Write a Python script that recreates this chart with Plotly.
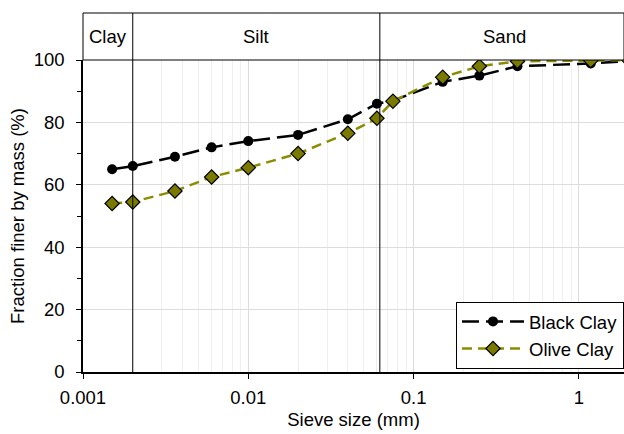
import plotly.graph_objects as go
import numpy as np

# Data
sieve_mm = [0.0015, 0.002, 0.0036, 0.006, 0.01, 0.02, 0.04, 0.06, 0.075, 0.15, 0.25, 0.425, 1.18, 2.0]
black_clay = [65.0, 66.0, 69.0, 72.0, 74.0, 76.0, 81.0, 86.0, 87.0, 93.0, 95.0, 98.0, 98.9, 99.6]
olive_clay = [54.0, 54.5, 58.0, 62.5, 65.5, 70.0, 76.5, 81.3, 86.8, 94.5, 98.0, 99.6, 99.8, 100.0]

zone_names = ["Clay", "Silt", "Sand"]
zone_bounds = [0.001, 0.002, 0.0625, 2.0]
x_tickvals = [0.001, 0.01, 0.1, 1]
x_ticktext = ["0.001", "0.01", "0.1", "1"]

FONT = "Liberation Sans, Arial, sans-serif"
FS = 18.5
W, H = 624, 434
ml, mr, mt, mb = 83, 0, 60, 62
plot_h = H - mt - mb
header_top = 1 + (mt - 13) / plot_h

fig = go.Figure()
fig.add_trace(go.Scatter(
    x=sieve_mm, y=black_clay, name="Black Clay", mode="lines+markers",
    line=dict(color="black", width=2.5, dash="17px,7px"),
    marker=dict(symbol="circle", size=10, color="black"),
))
fig.add_trace(go.Scatter(
    x=sieve_mm, y=olive_clay, name="Olive Clay", mode="lines+markers",
    line=dict(color="#8c8c00", width=2.5, dash="10px,6px"),
    marker=dict(symbol="diamond", size=11, color="#7a7a00", line=dict(color="black", width=1.2)),
))

# header band
fig.add_shape(type="rect", xref="paper", yref="paper", x0=0, x1=1, y0=1, y1=header_top,
              line=dict(color="black", width=1), fillcolor="rgba(0,0,0,0)", layer="above")
for b in zone_bounds[1:-1]:
    fig.add_shape(type="line", xref="x", yref="paper", x0=b, x1=b, y0=0, y1=header_top,
                  line=dict(color="black", width=1), layer="above")
logb = np.log10(zone_bounds)
for i, name in enumerate(zone_names):
    cx = (logb[i] + logb[i + 1]) / 2
    fig.add_annotation(x=cx, xref="x", y=(1 + header_top) / 2, yref="paper",
                       xanchor="center", yanchor="middle",
                       text=name, showarrow=False, font=dict(size=FS, color="black", family=FONT))

fig.update_layout(
    width=W, height=H, margin=dict(l=ml, r=mr, t=mt, b=mb),
    paper_bgcolor="white", plot_bgcolor="white",
    font=dict(family=FONT, size=FS, color="black"),
    showlegend=True,
    legend=dict(x=1, xanchor="right", y=0.01, yanchor="bottom", bordercolor="black", borderwidth=1,
                bgcolor="white", font=dict(size=FS), tracegroupgap=0, itemwidth=62),
    xaxis=dict(type="log", range=[-3, np.log10(1.875)], tickvals=x_tickvals, ticktext=x_ticktext,
               showgrid=True, gridcolor="#dcdcdc", gridwidth=1,
               minor=dict(dtick="D1", showgrid=True, gridcolor="#efefef", ticks=""),
               ticks="outside", ticklen=5, tickcolor="black", ticklabelstandoff=3,
               showline=True, linecolor="black", linewidth=1.5, zeroline=False,
               title=dict(text="Sieve size (mm)", font=dict(size=FS), standoff=6)),
    yaxis=dict(range=[0, 100], tickvals=[0, 20, 40, 60, 80, 100], showgrid=True, gridcolor="#dcdcdc",
               minor=dict(dtick=10, ticks="outside", ticklen=4, tickcolor="black", showgrid=False),
               ticks="outside", ticklen=5, tickcolor="black", ticklabelstandoff=8,
               showline=True, linecolor="black", linewidth=1.5, zeroline=False,
               title=dict(text="Fraction finer by mass (%)", font=dict(size=FS), standoff=4)),
)

fig.write_html("out.html")
